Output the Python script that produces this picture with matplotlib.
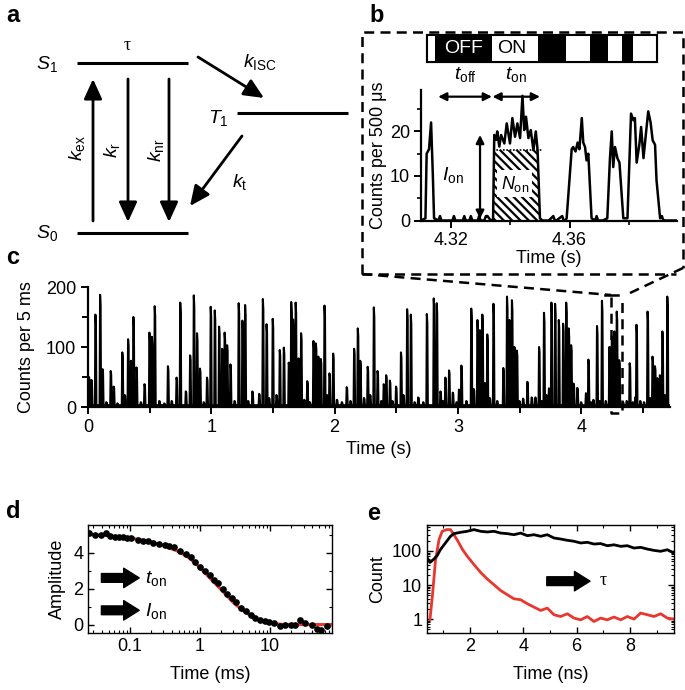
import matplotlib
matplotlib.use('Agg')
import matplotlib.pyplot as plt
import numpy as np
from matplotlib.patches import Rectangle

plt.rcParams['font.family'] = ['Liberation Sans', 'DejaVu Sans']
plt.rcParams['mathtext.fontset'] = 'custom'
plt.rcParams['mathtext.rm'] = 'Liberation Sans'
plt.rcParams['mathtext.it'] = 'Liberation Sans:italic'
plt.rcParams['font.size'] = 12
plt.rcParams['hatch.linewidth'] = 1.6

# ---- data ----
# panel b: zoomed trace (time in s, counts per 500 us)
b_t = [4.3099, 4.3114, 4.3118, 4.3126, 4.3133, 4.3139, 4.3143, 4.3158, 4.3163, 4.3168,
       4.3205, 4.3210, 4.3215, 4.3240, 4.3245, 4.3250, 4.3262, 4.3267, 4.3272, 4.3290,
       4.3295, 4.3300, 4.3312, 4.3318, 4.3323, 4.3334, 4.3339,
       4.3342, 4.3346, 4.3352, 4.3356, 4.3363, 4.3369, 4.3380, 4.3388, 4.3399, 4.3407,
       4.3416, 4.3424, 4.3433, 4.3441, 4.3447, 4.3453, 4.3461, 4.3469, 4.3478, 4.3486,
       4.3492, 4.3500, 4.3508,
       4.3530, 4.3545, 4.3550, 4.3555, 4.3575, 4.3580, 4.3585,
       4.3590, 4.3607, 4.3612, 4.3620, 4.3627, 4.3633, 4.3641, 4.3646, 4.3652, 4.3657,
       4.3663, 4.3674,
       4.3686, 4.3691, 4.3696, 4.3712,
       4.3727, 4.3736, 4.3742, 4.3747, 4.3753, 4.3761, 4.3768, 4.3781,
       4.3795, 4.3807, 4.3815, 4.3820, 4.3826, 4.3835, 4.3841, 4.3849, 4.3858, 4.3865,
       4.3873, 4.3880, 4.3888, 4.3893, 4.3905, 4.3911, 4.3916, 4.3921, 4.3962]
b_y = [0, 0.5, 15, 16, 22, 10, 0.5, 0, 1, 0,
       0, 1, 0, 0, 1, 0, 0, 1, 0, 0,
       1, 0, 0, 1, 1, 0, 0,
       0.5, 19.2, 18.1, 20, 16.6, 19.2, 17.3, 21.8, 17.3, 23,
       18.8, 21.8, 18.5, 28, 20.3, 23.3, 18.5, 20.3, 15.8, 20,
       15.8, 0.5, 0,
       0, 1, 0, 0, 1, 0, 0,
       0.5, 16, 16.5, 15.5, 17.5, 16, 23, 17.5, 16.5, 13.5,
       15, 0.5,
       0, 1, 0, 0,
       0.5, 14, 20, 12, 16.5, 14, 13, 0.5,
       0.5, 24, 22.5, 23, 13, 17, 21, 14, 20, 24.5,
       22, 18, 17, 9, 0.5, 1, 0, 0, 0]
on_start = [4.3119, 4.3338, 4.3588, 4.3729, 4.3814]
on_end = [4.3146, 4.3493, 4.3669, 4.3777, 4.3895]
on_level = 15.8

# panel c: burst peaks (time in s, counts per 5 ms)
c_peak_t = [0.01, 0.03, 0.062, 0.10, 0.12, 0.15, 0.186, 0.21, 0.24, 0.28, 0.30, 0.327,
            0.35, 0.37, 0.395, 0.43, 0.46, 0.50, 0.52, 0.543, 0.58, 0.62, 0.65, 0.68,
            0.72, 0.75, 0.795, 0.83, 0.86, 0.886, 0.91, 0.94, 0.967, 0.997, 1.03, 1.065,
            1.09, 1.11, 1.13, 1.157, 1.19, 1.224, 1.254, 1.276, 1.30, 1.335, 1.39, 1.42,
            1.45, 1.47, 1.50, 1.53, 1.557, 1.59, 1.63, 1.65, 1.665, 1.686, 1.71, 1.73,
            1.755, 1.78, 1.80, 1.83, 1.85, 1.87, 1.89, 1.92, 1.94, 1.96, 1.99, 2.02,
            2.06, 2.10, 2.13, 2.16, 2.19, 2.21, 2.24, 2.27, 2.29, 2.32, 2.35, 2.38,
            2.40, 2.42, 2.45, 2.47, 2.50, 2.54, 2.56, 2.59, 2.62, 2.65, 2.68, 2.72,
            2.75, 2.806, 2.83, 2.86, 2.88, 2.90, 2.93, 2.96, 2.99, 3.01, 3.03, 3.07,
            3.11, 3.13, 3.16, 3.18, 3.20, 3.22, 3.24, 3.26, 3.29, 3.32, 3.37, 3.40,
            3.42, 3.44, 3.46, 3.48, 3.50, 3.53, 3.565, 3.60, 3.63, 3.66, 3.68, 3.70,
            3.72, 3.74, 3.76, 3.79, 3.82, 3.855, 3.88, 3.90, 3.92, 3.94, 3.97, 4.00,
            4.04, 4.06, 4.08, 4.10, 4.13, 4.15, 4.17, 4.20, 4.23, 4.25, 4.27, 4.29,
            4.31, 4.34, 4.37, 4.395, 4.42, 4.44, 4.45, 4.48, 4.51, 4.54, 4.56, 4.58,
            4.60, 4.62, 4.64, 4.66, 4.68, 4.70]
c_peak_h = [50, 45, 154, 187, 63, 8, 60, 34, 6, 91, 20, 113,
            77, 150, 66, 8, 38, 124, 117, 168, 10, 6, 68, 10,
            49, 174, 26, 86, 186, 123, 64, 8, 49, 167, 161, 134,
            97, 124, 103, 71, 10, 173, 144, 170, 10, 26, 22, 180,
            138, 15, 147, 20, 95, 99, 74, 175, 146, 174, 81, 123,
            12, 43, 8, 110, 106, 84, 80, 169, 20, 56, 89, 12,
            8, 33, 10, 97, 131, 77, 15, 67, 20, 166, 60, 10,
            38, 53, 44, 10, 34, 91, 20, 163, 154, 8, 16, 8,
            155, 181, 173, 26, 10, 49, 61, 24, 8, 29, 69, 10,
            164, 30, 145, 128, 154, 40, 121, 15, 172, 10, 65, 184,
            145, 178, 100, 94, 10, 14, 42, 16, 16, 100, 10, 157,
            20, 31, 174, 172, 145, 139, 174, 131, 103, 39, 32, 8,
            23, 79, 8, 12, 135, 10, 177, 10, 100, 118, 126, 159,
            78, 8, 10, 73, 8, 16, 137, 10, 8, 159, 15, 84,
            68, 48, 53, 126, 20, 184]
c_base = 3

# panel d: autocorrelation amplitude vs lag (ms)
d_t = [0.0262, 0.0316, 0.0394, 0.0464, 0.0530, 0.0611, 0.0704, 0.0803, 0.0916, 0.1056,
       0.1316, 0.155, 0.183, 0.211, 0.262, 0.316, 0.365, 0.430, 0.518, 0.631,
       0.736, 0.849, 1.0, 1.18, 1.39, 1.58, 1.83, 2.11, 2.46, 2.83,
       3.27, 3.81, 4.49, 5.29, 6.11, 7.20, 8.48, 9.78, 11.2, 13.6,
       16.4, 19.7, 22.8, 26.2, 31.6, 39.4, 46.4, 53.0, 64.5]
d_amp = [5.12, 4.99, 4.97, 5.12, 4.93, 4.89, 4.86, 4.86, 4.84, 4.80,
         4.71, 4.67, 4.65, 4.56, 4.47, 4.43, 4.37, 4.30, 4.11, 3.91,
         3.78, 3.50, 3.22, 3.00, 2.75, 2.47, 2.29, 2.01, 1.69, 1.49,
         1.27, 0.95, 0.76, 0.56, 0.39, 0.28, 0.20, 0.15, 0.06, -0.09,
         0.0, 0.0, 0.0, 0.24, 0.06, -0.04, -0.22, -0.28, -0.09]
d_fit_t = [0.0254, 0.05, 0.1, 0.2, 0.3, 0.5, 0.7, 1.0, 1.5, 2.0, 3.0, 4.0, 6.0, 8.0,
           10.0, 15.0, 30.0, 76.0]
d_fit_amp = [5.02, 4.95, 4.83, 4.62, 4.40, 4.07, 3.72, 3.18, 2.45, 1.95, 1.22, 0.80,
             0.36, 0.15, 0.06, 0.01, 0.0, 0.0]

# panel e: fluorescence decay (ns, counts)
e_t = [0.40, 0.50, 0.65, 0.77, 0.89, 1.08, 1.27, 1.40, 1.65, 1.90, 2.15, 2.40, 2.65,
       2.90, 3.15, 3.40, 3.65, 3.90, 4.15, 4.40, 4.65, 4.90, 5.15, 5.40, 5.65, 5.90,
       6.15, 6.40, 6.65, 6.90, 7.15, 7.40, 7.65, 7.90, 8.15, 8.40, 8.65, 8.90, 9.15,
       9.40, 9.65]
e_count = [62, 46, 58, 73, 109, 172, 270, 323, 354, 379, 425, 379, 362,
           379, 336, 323, 301, 336, 282, 301, 270, 301, 241, 225, 206, 193,
           172, 180, 160, 165, 143, 152, 137, 143, 122, 128, 114, 104, 98,
           109, 87]
irf_t = [0.50, 0.59, 0.71, 0.84, 0.96, 1.13, 1.27, 1.40, 1.55, 1.71, 1.90, 2.15, 2.40,
         2.65, 2.90, 3.15, 3.40, 3.65, 3.90, 4.15, 4.40, 4.65, 4.90, 5.15, 5.40, 5.65,
         5.90, 6.15, 6.40, 6.65, 6.90, 7.15, 7.40, 7.65, 7.90, 8.15, 8.40, 8.65, 8.90,
         9.15, 9.40, 9.65]
irf_count = [0.95, 4.6, 55, 215, 379, 425, 425, 301, 193, 114, 70, 40, 23.5,
             15, 10.2, 6.9, 5.2, 3.94, 3.7, 2.82, 2.25, 1.79, 2.1, 1.34, 1.19, 1.43,
             1.07, 0.95, 1.19, 0.85, 1.07, 0.95, 1.15, 0.95, 1.19, 1.0, 1.5, 1.34, 1.19,
             1.43, 1.07, 1.0]

RED = '#e8372e'
W, H = 685, 690


def box(l, t, r, b):
    return [l / W, 1 - b / H, (r - l) / W, (b - t) / H]


fig = plt.figure(figsize=(W / 100, H / 100), dpi=100)

# overlay in pixel coordinates for diagram, letters, dashed zoom box
ov = fig.add_axes([0, 0, 1, 1], zorder=10)
ov.set_xlim(0, W)
ov.set_ylim(H, 0)
ov.axis('off')
ov.patch.set_alpha(0)

for lbl, (x, y) in zip('abcde', [(6, 16), (369, 16), (6, 258), (6, 512), (367, 513)]):
    ov.text(x, y, lbl, fontsize=17, fontweight='bold', ha='left', va='center')

# ---- panel a: energy diagram ----
for (x0, x1, y) in [(77, 188, 63), (77, 188, 233), (237, 348, 113)]:
    ov.plot([x0, x1], [y, y], color='k', lw=2.2, solid_capstyle='butt')
arr = dict(arrowstyle='-|>,head_length=0.55,head_width=0.25', lw=2.0, color='k',
           mutation_scale=22, shrinkA=0, shrinkB=0)
for (x0, y0, x1, y1) in [(93, 221, 93, 79), (128, 79, 128, 222), (169, 79, 169, 222),
                         (198, 57, 264, 98), (242, 136, 190, 206)]:
    ov.annotate('', xy=(x1, y1), xytext=(x0, y0), arrowprops=arr)
fs_a = 14
ov.text(58, 64, r'$S_1$', fontsize=fs_a, ha='right', va='center')
ov.text(58, 233, r'$S_0$', fontsize=fs_a, ha='right', va='center')
ov.text(229, 118, r'$T_1$', fontsize=fs_a, ha='right', va='center')
ov.text(127, 46, 'τ', fontsize=13, ha='center', va='center', family='Liberation Serif')
ov.text(243, 62, r'$k_\mathrm{ISC}$', fontsize=fs_a, ha='left', va='center')
ov.text(232, 182, r'$k_\mathrm{t}$', fontsize=fs_a, ha='left', va='center')
ov.text(77, 148, r'$k_\mathrm{ex}$', fontsize=fs_a, ha='center', va='center', rotation=90)
ov.text(112, 150, r'$k_\mathrm{r}$', fontsize=fs_a, ha='center', va='center', rotation=90)
ov.text(156, 150, r'$k_\mathrm{nr}$', fontsize=fs_a, ha='center', va='center', rotation=90)

# dashed zoom box and connector lines
dash = dict(color='k', lw=1.8, ls=(0, (4, 2.5)))
ov.plot([362, 362, 683, 683], [274, 32, 32, 268], **dash)
ov.plot([362, 676], [274, 274], **dash)
ov.plot([362, 611], [274, 295], **dash)
ov.plot([683, 630], [268, 293], **dash)

# ---- panel b ----
axB = fig.add_axes(box(421, 90, 677, 220.5))
axB.plot(b_t, b_y, color='k', lw=1.8, zorder=3)
b_t_arr = np.array(b_t)
b_y_arr = np.array(b_y)
sel = (b_t_arr >= on_start[1] + 0.0004) & (b_t_arr <= on_end[1] + 0.0015)
axB.fill_between(b_t_arr[sel], 0, np.minimum(b_y_arr[sel], on_level), facecolor='white',
                 edgecolor='k', hatch='\\\\\\\\', lw=0, zorder=2)
axB.plot([b_t_arr[sel][0], b_t_arr[sel][-1]], [on_level, on_level], color='k', lw=1.2,
         ls=(0, (1, 1)), zorder=3)
axB.text(4.3415, 8.3, r'$N_\mathrm{on}$', fontsize=13, ha='center', va='center', zorder=4,
         bbox=dict(facecolor='white', edgecolor='none', pad=2.5))
axB.set_xlim(4.3099, 4.3962)
axB.set_ylim(0, 29.3)
axB.set_xticks([4.32, 4.36])
axB.set_xticklabels(['4.32', '4.36'])
axB.set_xticks([4.34, 4.38], minor=True)
axB.set_yticks([0, 10, 20])
axB.set_yticks([5, 15, 25], minor=True)
for s in ['top', 'right']:
    axB.spines[s].set_visible(False)
for s in ['left', 'bottom']:
    axB.spines[s].set_linewidth(1.6)
axB.tick_params(which='major', length=5, width=1.4, labelsize=13, pad=3)
axB.tick_params(which='minor', length=3, width=1.2)
axB.set_xlabel('Time (s)', fontsize=13, labelpad=1)
axB.set_ylabel('Counts per 500 μs', fontsize=13, labelpad=2)
# on/off bar
bar_lo, bar_hi = 35.6, 41.7
axB.add_patch(Rectangle((on_start[0], bar_lo), on_end[-1] - on_start[0], bar_hi - bar_lo,
                        facecolor='k', edgecolor='k', lw=1.5, clip_on=False))
for s0, s1 in zip(on_start, on_end):
    axB.add_patch(Rectangle((s0, bar_lo), s1 - s0, bar_hi - bar_lo, facecolor='white',
                            edgecolor='none', clip_on=False))
axB.add_patch(Rectangle((on_start[0], bar_lo), on_end[-1] - on_start[0], bar_hi - bar_lo,
                        facecolor='none', edgecolor='k', lw=1.5, clip_on=False))
axB.text((on_end[0] + on_start[1]) / 2, (bar_lo + bar_hi) / 2, 'OFF', color='white',
         fontsize=14, ha='center', va='center', clip_on=False)
axB.text((on_start[1] + on_end[1]) / 2 - 0.001, (bar_lo + bar_hi) / 2, 'ON', color='k',
         fontsize=14, ha='center', va='center', clip_on=False)
darr = dict(arrowstyle='<|-|>', lw=1.6, color='k', mutation_scale=12, shrinkA=0, shrinkB=0)
axB.annotate('', xy=(on_end[0] + 0.0011, 27.8), xytext=(on_start[1], 27.8), arrowprops=darr,
             annotation_clip=False)
axB.annotate('', xy=(on_start[1] + 0.0002, 27.8), xytext=(on_end[1] + 0.0007, 27.8),
             arrowprops=darr, annotation_clip=False)
axB.text(4.3250, 32.8, r'$t_\mathrm{off}$', fontsize=14, ha='center', va='center', clip_on=False)
axB.text(4.3420, 32.8, r'$t_\mathrm{on}$', fontsize=14, ha='center', va='center', clip_on=False)
axB.annotate('', xy=(4.3298, 0.4), xytext=(4.3298, 19.2), arrowprops=darr)
axB.text(4.3208, 10.2, r'$I_\mathrm{on}$', fontsize=14, ha='center', va='center')

# ---- panel c ----
axC = fig.add_axes(box(88, 287, 670, 407))
axC.patch.set_alpha(0)
trace_t, trace_y = [0.0], [c_base]
for t, h in zip(c_peak_t, c_peak_h):
    trace_t += [t - 0.006, t - 0.002, t + 0.002, t + 0.006]
    trace_y += [c_base, h, h * 0.9, c_base]
trace_t.append(4.72)
trace_y.append(c_base)
axC.plot(trace_t, trace_y, color='k', lw=1.5)
axC.set_xlim(0, 4.72)
axC.set_ylim(0, 200)
axC.set_xticks([0, 1, 2, 3, 4])
axC.set_xticks([0.5, 1.5, 2.5, 3.5, 4.5], minor=True)
axC.set_yticks([0, 100, 200])
axC.set_yticks([50, 150], minor=True)
for s in ['top', 'right']:
    axC.spines[s].set_visible(False)
for s in ['left', 'bottom']:
    axC.spines[s].set_linewidth(1.6)
axC.tick_params(which='major', length=5, width=1.4, labelsize=13)
axC.tick_params(which='minor', length=4, width=1.4)
axC.set_xlabel('Time (s)', fontsize=13, labelpad=4)
axC.set_ylabel('Counts per 5 ms', fontsize=13, labelpad=8)
# zoom region marker
axC.plot([4.24, 4.24, 4.33, 4.33], [183, -10, -10, 180], color='k', lw=1.8,
         ls=(0, (4, 2.5)), clip_on=False)
axC.plot([4.19, 4.30], [187, 187], color='k', lw=1.8, clip_on=False)

# ---- panel d ----
axD = fig.add_axes(box(88, 525, 332, 633))
axD.plot(d_fit_t, d_fit_amp, color=RED, lw=2.2, zorder=2)
axD.plot(d_t, d_amp, 'o', color='k', ms=3.8, zorder=3)
axD.set_xscale('log')
axD.set_xlim(0.0254, 76)
axD.set_ylim(-0.47, 5.55)
axD.set_xticks([0.1, 1, 10])
axD.set_xticklabels(['0.1', '1', '10'])
axD.set_yticks([0, 2, 4])
axD.set_yticks([1, 3, 5], minor=True)
axD.tick_params(which='both', direction='in', top=True, right=True, labelsize=13)
axD.tick_params(which='major', length=4, width=1.0)
axD.tick_params(which='minor', length=2, width=0.8)
axD.set_xlabel('Time (ms)', fontsize=13, labelpad=8)
axD.set_ylabel('Amplitude', fontsize=13, labelpad=5)
thick = dict(arrowstyle='simple,head_width=1.0,head_length=0.8,tail_width=0.45',
             color='k', shrinkA=0, shrinkB=0, mutation_scale=14)
for yy, lbl in [(0.51, r'$t_\mathrm{on}$'), (0.21, r'$I_\mathrm{on}$')]:
    axD.annotate('', xy=(0.21, yy), xytext=(0.055, yy), xycoords='axes fraction',
                 arrowprops=thick)
    axD.text(0.235, yy - 0.01, lbl, transform=axD.transAxes, fontsize=14, ha='left',
             va='center')
for s in axD.spines.values():
    s.set_linewidth(1.0)

# ---- panel e ----
axE = fig.add_axes(box(427, 525, 674, 633))
axE.plot(irf_t, irf_count, color=RED, lw=2.0)
axE.plot(e_t, e_count, color='k', lw=2.0)
axE.set_yscale('log')
axE.set_xlim(0.39, 9.65)
axE.set_ylim(0.39, 580)
axE.set_xticks([2, 4, 6, 8])
axE.set_xticks([1, 3, 5, 7, 9], minor=True)
axE.set_yticks([1, 10, 100])
axE.set_yticklabels(['1', '10', '100'])
axE.tick_params(which='both', direction='in', top=True, right=True, labelsize=13)
axE.tick_params(which='major', length=4, width=1.0)
axE.tick_params(which='minor', length=2, width=0.8)
axE.set_xlabel('Time (ns)', fontsize=13, labelpad=8)
axE.set_ylabel('Count', fontsize=13, labelpad=4)
axE.annotate('', xy=(0.66, 0.48), xytext=(0.485, 0.48), xycoords='axes fraction',
             arrowprops=thick)
axE.text(0.715, 0.49, 'τ', transform=axE.transAxes, fontsize=13, ha='center',
         va='center', family='Liberation Serif')
for s in axE.spines.values():
    s.set_linewidth(1.0)

fig.savefig('out.png', dpi=100)
